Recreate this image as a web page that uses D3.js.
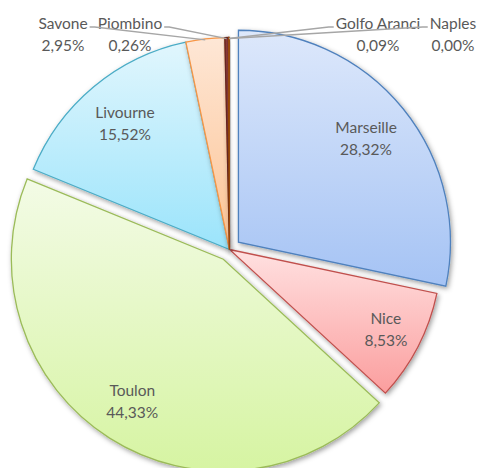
<html lang="en">
<head>
    <meta charset="utf-8">
    <style type="text/css">
        body { margin: 0; background: #fff; }
        .lbl { font-family: Lato, "Open Sans", sans-serif; font-size: 15.5px; fill: #595959; }
        .leader { stroke: #a6a6a6; stroke-width: 1.3px; fill: none; }
    </style>
</head>
<body>
<svg width="477" height="468"></svg>

<script src="https://d3js.org/d3.v7.min.js"></script>
<script type="text/javascript">
    // data (percent of total)
    var ports = ["Marseille", "Nice", "Toulon", "Livourne", "Savone", "Piombino", "Golfo Aranci", "Naples"];
    var shares = [28.32, 8.53, 44.33, 15.52, 2.95, 0.26, 0.09, 0.00];

    // styling per slice
    var topColors = ["#dde8fb", "#ffe1e1", "#f3fbe6", "#e1f6fd", "#fee7d6", "#8a3a37", "#c8691a", "#3b5f8c"];
    var bottomColors = ["#a5c3f4", "#fb9e9e", "#d6f4a2", "#9be4fb", "#fcc393", "#772c2a", "#b65708", "#2c4d75"];
    var strokeColors = ["#4f81bd", "#c0504d", "#9bbb59", "#4bacc6", "#f79646", "#632523", "#984807", "#254061"];
    var explode = [11.5, 0, 11.5, 0, 0, 0, 0, 0];
    var labelRatio = [0.775, 0.83, 0.8, 0.77, 0, 0, 0, 0];
    var outside = {"Savone": 63, "Piombino": 130, "Golfo Aranci": 378, "Naples": 453};

    var svg = d3.select("svg"),
        cx = 229.5,
        cy = 249.5,
        R = 212,
        lineGap = 22;

    var fmt = function (v) { return d3.format(".2f")(v).replace(".", ",") + "%"; };

    var defs = svg.append("defs");
    var shadow = defs.append("filter")
        .attr("id", "shadow")
        .attr("x", "-20%").attr("y", "-20%")
        .attr("width", "140%").attr("height", "140%");
    shadow.append("feDropShadow")
        .attr("dx", 1.5).attr("dy", 2)
        .attr("stdDeviation", 2.5)
        .attr("flood-color", "#000")
        .attr("flood-opacity", 0.38);

    ports.forEach(function (p, i) {
        var g = defs.append("linearGradient")
            .attr("id", "grad" + i)
            .attr("x1", 0).attr("y1", 0).attr("x2", 0).attr("y2", 1);
        g.append("stop").attr("offset", "0%").attr("stop-color", topColors[i]);
        g.append("stop").attr("offset", "100%").attr("stop-color", bottomColors[i]);
    });

    var pie = d3.pie().sort(null).value(function (d) { return d; });
    var arcs = pie(shares);

    var arc = d3.arc().innerRadius(0).outerRadius(R);

    function mid(d) { return (d.startAngle + d.endAngle) / 2; }
    function offset(d, i) {
        var a = mid(d);
        return [explode[i] * Math.sin(a), -explode[i] * Math.cos(a)];
    }

    var slices = svg.append("g")
        .attr("transform", "translate(" + cx + "," + cy + ")");

    slices.selectAll(".slice")
        .data(arcs)
        .enter()
        .append("path")
        .attr("class", "slice")
        .attr("transform", function (d, i) {
            var o = offset(d, i);
            return "translate(" + o[0] + "," + o[1] + ")";
        })
        .attr("d", arc)
        .attr("fill", function (d, i) { return "url(#grad" + i + ")"; })
        .attr("stroke", function (d, i) { return strokeColors[i]; })
        .attr("stroke-width", 1.3)
        .attr("stroke-linejoin", "miter")
        .attr("filter", "url(#shadow)");

    var texts = svg.append("g");

    // labels inside the big slices
    arcs.forEach(function (d, i) {
        var name = ports[i];
        if (outside[name] !== undefined) return;
        var o = offset(d, i);
        var r = R * labelRatio[i];
        var a = mid(d);
        var x = cx + o[0] + r * Math.sin(a),
            y = cy + o[1] - r * Math.cos(a);
        texts.append("text").attr("class", "lbl")
            .attr("x", x).attr("y", y - lineGap / 2 + 5)
            .attr("text-anchor", "middle").text(name);
        texts.append("text").attr("class", "lbl")
            .attr("x", x).attr("y", y + lineGap / 2 + 5)
            .attr("text-anchor", "middle").text(fmt(shares[i]));
    });

    // small slices: labels on the top row with leader lines
    var rowY = 23;
    var leaders = svg.append("g");
    arcs.forEach(function (d, i) {
        var name = ports[i];
        if (outside[name] === undefined) return;
        var x = outside[name];
        var t1 = texts.append("text").attr("class", "lbl")
            .attr("x", x).attr("y", rowY + 6)
            .attr("text-anchor", "middle").text(name);
        texts.append("text").attr("class", "lbl")
            .attr("x", x).attr("y", rowY + lineGap + 6)
            .attr("text-anchor", "middle").text(fmt(shares[i]));

        var w = t1.node().getComputedTextLength();
        var a = mid(d);
        var tx = cx + R * Math.sin(a),
            ty = cy - R * Math.cos(a);
        var left = x < tx;
        var sx = left ? x + w / 2 + 2 : x - w / 2 - 2;
        var stub = left ? sx + 5 : sx - 5;
        var ly = rowY + 4;
        leaders.append("path").attr("class", "leader")
            .attr("d", "M" + sx + "," + ly + "L" + stub + "," + ly + "L" + tx + "," + (ty + 1));
    });
</script>
</body>
</html>
